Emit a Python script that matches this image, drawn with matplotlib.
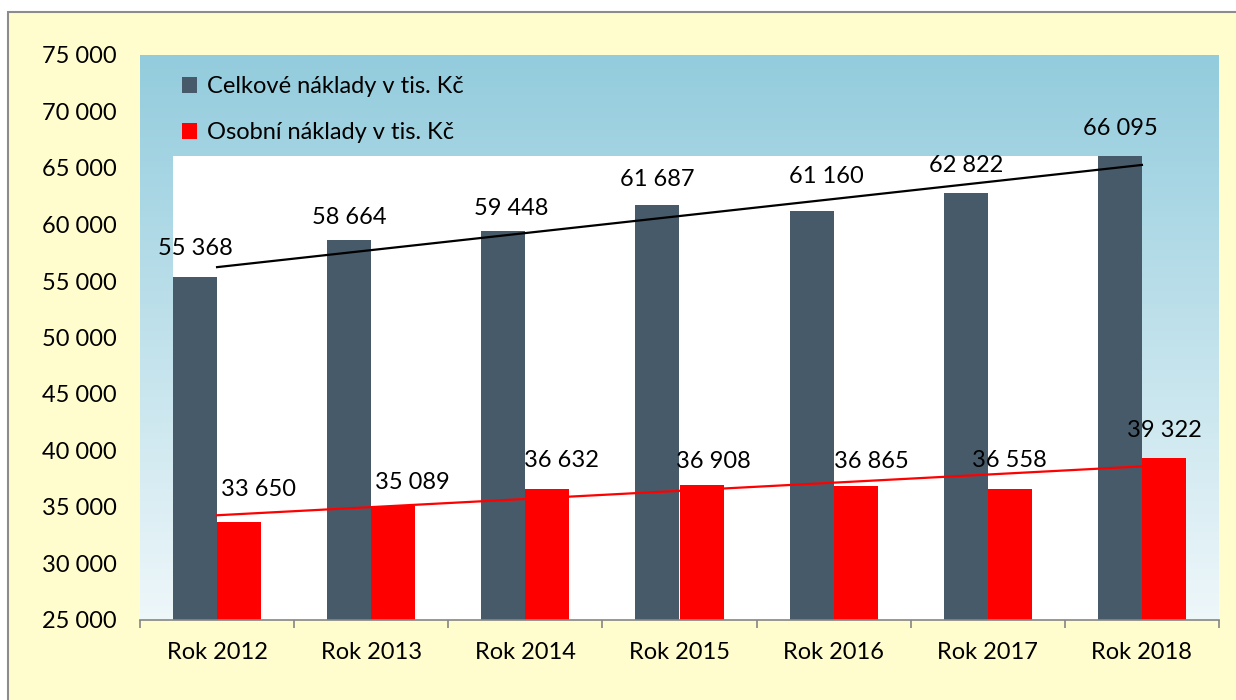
"""
Celkové a osobní náklady 2012-2018 (v tis. Kč) - sloupcový graf s lineárními trendy.

Output:
    out.png
"""

import matplotlib

matplotlib.use("Agg")
import matplotlib.pyplot as plt
import numpy as np
from matplotlib.colors import LinearSegmentedColormap
from matplotlib.patches import Rectangle

YEARS = ["Rok 2012", "Rok 2013", "Rok 2014", "Rok 2015", "Rok 2016", "Rok 2017", "Rok 2018"]
TOTAL_COSTS = [55368, 58664, 59448, 61687, 61160, 62822, 66095]
STAFF_COSTS = [33650, 35089, 36632, 36908, 36865, 36558, 39322]
SERIES_LABELS = ["Celkové náklady v tis. Kč", "Osobní náklady v tis. Kč"]
Y_TICKS = [25000, 30000, 35000, 40000, 45000, 50000, 55000, 60000, 65000, 70000, 75000]

# manual nudges of the data labels (pixels, dx / height above bar top), as in the source
TOTAL_LABEL_NUDGE = [(0, 28), (0, 22), (8, 22), (0, 26), (15, 35), (0, 27), (0, 27)]
STAFF_LABEL_NUDGE = [(19, 33), (19, 23), (14, 28), (12, 24), (16, 24), (0, 29), (0, 28)]

DARK = "#465A69"
RED = "#FF0000"
FONT = "Lato"
FS = 17


def fmt(v: float) -> str:
    return f"{int(v):,}".replace(",", " ")


def main() -> None:
    plt.rcParams["font.family"] = [FONT, "DejaVu Sans"]

    fig = plt.figure(figsize=(12.36, 7.0), dpi=100, facecolor="white")
    border = Rectangle((8 / 1236, -0.02), 1.0, 688 / 700 + 0.02, transform=fig.transFigure,
                       facecolor="#FFFDCD", edgecolor="#8C8C8C", linewidth=1.5, zorder=-10)
    fig.add_artist(border)

    ax = fig.add_axes([140 / 1236, 1 - 620 / 700, 1079 / 1236, 565 / 700])
    ax.set_facecolor("none")

    x = np.arange(len(YEARS))
    w = 0.2855
    ymin, ymax = Y_TICKS[0], Y_TICKS[-1]

    # plot-area gradient
    grad_cmap = LinearSegmentedColormap.from_list("bg", ["#EEF7FA", "#93CCDD"])
    ax.imshow(np.linspace(0, 1, 256).reshape(-1, 1), cmap=grad_cmap, origin="lower",
              extent=(-0.5, len(YEARS) - 0.5, ymin, ymax), aspect="auto", zorder=0)
    ax.add_patch(Rectangle((x[0] - w, ymin), x[-1] - x[0] + w, max(TOTAL_COSTS) - ymin,
                           facecolor="white", edgecolor="none", zorder=0.5))

    b1 = ax.bar(x - w / 2, TOTAL_COSTS, width=w, color=DARK, zorder=2, label=SERIES_LABELS[0])
    b2 = ax.bar(x + w / 2, STAFF_COSTS, width=w, color=RED, zorder=2, label=SERIES_LABELS[1])

    for vals, color in ((TOTAL_COSTS, "black"), (STAFF_COSTS, RED)):
        k, q = np.polyfit(x, vals, 1)
        ax.plot([x[0], x[-1]], [k * x[0] + q, k * x[-1] + q], color=color, lw=1.6, zorder=3)

    for bars, vals, nudges in ((b1, TOTAL_COSTS, TOTAL_LABEL_NUDGE), (b2, STAFF_COSTS, STAFF_LABEL_NUDGE)):
        for bar, v, (dx, dy) in zip(bars, vals, nudges):
            ax.annotate(fmt(v), (bar.get_x() + bar.get_width() / 2, v), xytext=(dx, dy),
                        textcoords="offset pixels", ha="center", va="center",
                        fontsize=FS, color="black", zorder=4)

    ax.set_xlim(-0.5, len(YEARS) - 0.5)
    ax.set_ylim(ymin, ymax)
    ax.set_yticks(Y_TICKS)
    ax.set_yticklabels([fmt(t) for t in Y_TICKS], fontsize=FS)
    ax.tick_params(axis="y", length=0, pad=17)
    ax.set_xticks(x)
    ax.set_xticklabels(YEARS, fontsize=FS)
    ax.set_xticks(np.arange(-0.5, len(YEARS), 1), minor=True)
    ax.tick_params(axis="x", which="major", length=0, pad=16)
    ax.tick_params(axis="x", which="minor", length=6, width=1.2, color="#868686", direction="out")

    for name, spine in ax.spines.items():
        spine.set_visible(name == "bottom")
    ax.spines["bottom"].set_color("#868686")
    ax.spines["bottom"].set_linewidth(1.2)
    ax.spines["bottom"].set_zorder(5)

    ax.legend(loc="upper left", bbox_to_anchor=(0.03, 0.979), frameon=False, fontsize=FS,
              handlelength=0.65, handleheight=0.65, handletextpad=0.4, labelspacing=1.06,
              borderaxespad=0.0)

    fig.savefig("out.png", dpi=100, facecolor=fig.get_facecolor())
    plt.close(fig)


if __name__ == "__main__":
    main()
